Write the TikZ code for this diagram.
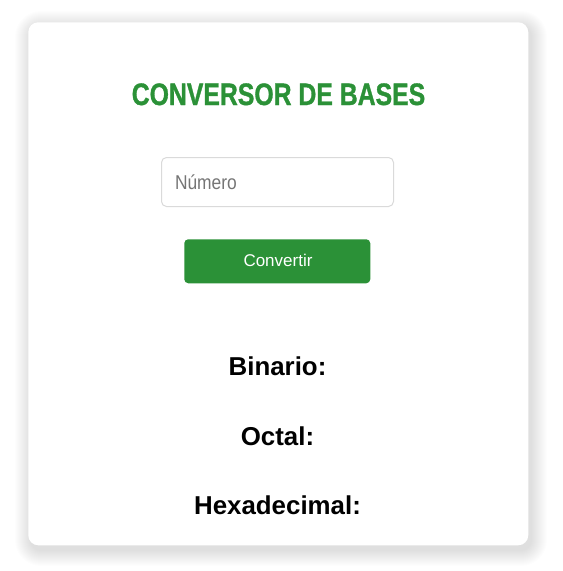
\documentclass[tikz,border=0pt]{standalone}
\usepackage{fontspec}
\setmainfont{Liberation Sans}
\newfontfamily\titlefont[FakeBold=1.2]{Liberation Sans Bold}
\definecolor{brandgreen}{RGB}{43,145,55}
\definecolor{inputborder}{RGB}{218,218,218}
\definecolor{phgray}{RGB}{117,117,117}
\begin{document}
\begin{tikzpicture}[x=0.75pt,y=-0.75pt,
  txt/.style={inner sep=0pt,outer sep=0pt},
  label/.style={txt,anchor=base,font=\fontsize{19.4pt}{22pt}\selectfont\bfseries}]
\useasboundingbox (0,0) rectangle (562,571);
\fill[white] (0,0) rectangle (562,571);
% shadow
\foreach \i in {1,...,16}{
  \fill[black,opacity=0.009,rounded corners={(10+\i)*0.75pt}]
    ({28+3-\i},{22+5-\i}) rectangle ({528+3+\i},{545+5+\i});
}
% card
\node[draw=none,fill=white,rounded corners=7.5pt,minimum width=375pt,minimum height=392.25pt,inner sep=0pt,anchor=north west] (card) at (28,22) {};
% title
\node[txt,anchor=base,text=brandgreen] (title) at (278.5,105)
  {\scalebox{0.80}[1]{\fontsize{23.25pt}{28pt}\titlefont CONVERSOR DE BASES}};
% input
\node[draw=inputborder,line width=0.75pt,fill=white,rounded corners=3.75pt,minimum width=174pt,minimum height=36.75pt,inner sep=0pt,anchor=north west] (input) at (161,157) {};
\node[txt,anchor=base west,text=phgray] (placeholder) at (175,189)
  {\scalebox{0.87}[1]{\fontsize{15pt}{18pt}\selectfont Número}};
% button
\node[fill=brandgreen,rounded corners=3pt,minimum width=139.5pt,minimum height=33pt,inner sep=0pt,anchor=north west] (button) at (184,239) {};
\node[txt,anchor=base,text=white] (btntext) at (278,266)
  {\fontsize{12.75pt}{15pt}\selectfont Convertir};
% results
\node[label] (bin) at (277.5,375) {Binario:};
\node[label] (oct) at (277.5,445) {Octal:};
\node[label] (hex) at (277.5,514) {Hexadecimal:};
\end{tikzpicture}
\end{document}
